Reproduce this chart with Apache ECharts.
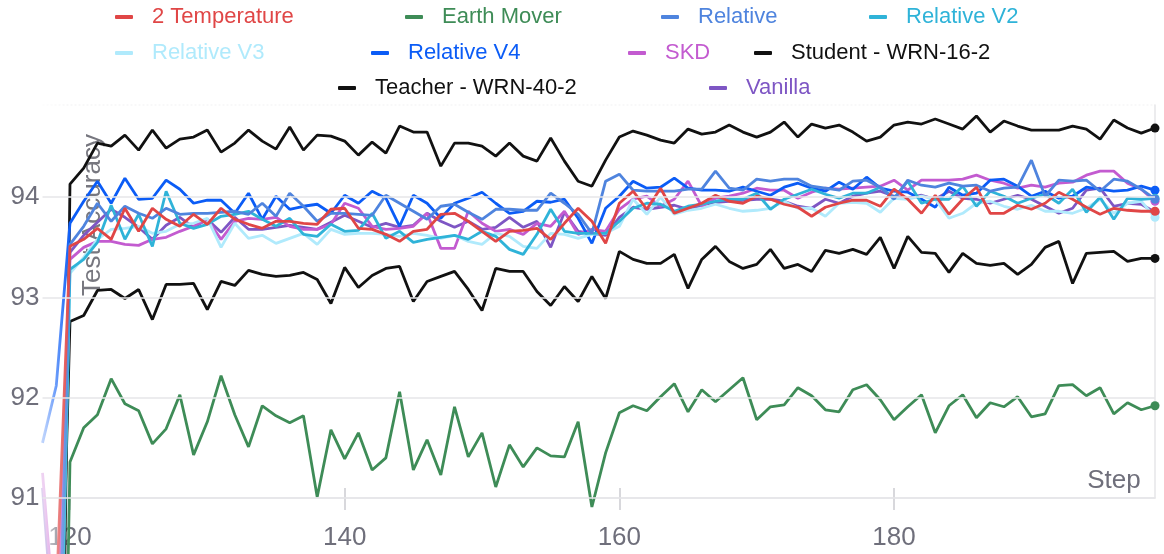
<!DOCTYPE html>
<html>
<head>
<meta charset="utf-8">
<script src="https://cdn.jsdelivr.net/npm/echarts@6/dist/echarts.min.js"></script>
<style>
  html, body { margin: 0; padding: 0; background: #fff; }
  #chart { width: 1164px; height: 554px; }
</style>
</head>
<body>
<div id="chart"></div>
<script>
// Training steps (x) and test accuracy per run (y), steps 118..199
const steps = [];
for (let s = 118; s <= 199; s++) steps.push(s);

const xTicks = [120, 140, 160, 180];
const yTicks = [91, 92, 93, 94];

const temp2 = [89.5, 90.0,
  93.51, 93.58, 93.69, 93.58, 93.89, 93.66, 93.89, 93.78, 93.71, 93.83,
  93.73, 93.89, 93.78, 93.73, 93.69, 93.76, 93.76, 93.74, 93.73, 93.88,
  93.89, 93.69, 93.68, 93.63, 93.56, 93.66, 93.68, 93.83, 93.84, 93.76,
  93.66, 93.56, 93.66, 93.67, 93.69, 93.58, 93.74, 93.89, 93.76, 93.54,
  93.94, 94.06, 93.88, 94.09, 93.84, 93.89, 93.94, 94.02, 93.96, 93.94,
  94.01, 93.98, 93.93, 93.90, 93.81, 93.90, 93.94, 93.97, 93.97, 93.91,
  94.08, 93.98, 93.84, 94.02, 93.83, 93.98, 94.10, 93.84, 93.84, 93.92,
  93.88, 93.94, 94.05, 93.98, 93.90, 93.83, 93.89, 93.87, 93.86, 93.86];

const earthMover = [84.0, 84.0,
  91.36, 91.70, 91.83, 92.19, 91.94, 91.87, 91.54, 91.69, 92.03, 91.43,
  91.76, 92.22, 91.83, 91.51, 91.92, 91.82, 91.75, 91.82, 91.01, 91.68,
  91.39, 91.65, 91.28, 91.40, 92.06, 91.28, 91.58, 91.23, 91.91, 91.41,
  91.65, 91.11, 91.53, 91.31, 91.50, 91.42, 91.41, 91.76, 90.91, 91.45,
  91.85, 91.92, 91.87, 92.01, 92.14, 91.86, 92.08, 91.96, 92.08, 92.20,
  91.78, 91.91, 91.93, 92.10, 92.02, 91.88, 91.86, 92.08, 92.13, 91.98,
  91.78, 91.91, 92.03, 91.65, 91.92, 92.03, 91.80, 91.95, 91.91, 92.01,
  91.81, 91.84, 92.12, 92.13, 92.02, 92.10, 91.84, 91.95, 91.88, 91.92];

const relative = [87.0, 88.0,
  93.53, 93.71, 93.94, 93.76, 93.91, 93.84, 93.79, 93.89, 93.83, 93.84,
  93.84, 93.85, 93.86, 93.83, 93.94, 93.81, 94.04, 93.91, 93.76, 93.84,
  93.84, 93.83, 93.82, 94.02, 93.94, 93.86, 93.78, 93.91, 93.93, 93.85,
  93.78, 93.88, 93.88, 93.87, 93.87, 94.04, 93.94, 93.83, 93.64, 94.16,
  94.23, 94.07, 94.06, 94.06, 94.06, 94.08, 94.08, 94.26, 94.09, 94.07,
  94.18, 94.16, 94.18, 94.18, 94.11, 94.09, 94.07, 94.16, 94.17, 94.10,
  93.98, 94.17, 94.12, 94.10, 94.14, 94.11, 94.12, 94.06, 94.09, 94.10,
  94.37, 94.01, 94.17, 94.16, 94.17, 94.06, 94.18, 94.16, 94.08, 93.98];

const relativeV2 = [88.0, 87.0,
  93.28, 93.38, 93.55, 93.92, 93.58, 93.83, 93.51, 94.06, 93.74, 93.69,
  93.73, 93.81, 93.83, 93.86, 93.78, 93.71, 93.79, 93.63, 93.61, 93.73,
  93.66, 93.67, 93.84, 93.59, 93.66, 93.55, 93.58, 93.60, 93.62, 93.58,
  93.66, 93.61, 93.48, 93.43, 93.63, 93.88, 93.66, 93.64, 93.64, 93.64,
  93.76, 93.89, 93.94, 93.93, 93.86, 93.91, 93.93, 93.96, 93.98, 93.98,
  94.04, 93.88, 93.98, 94.03, 94.08, 94.03, 93.99, 94.04, 94.04, 94.10,
  93.99, 94.16, 93.94, 93.98, 93.98, 94.11, 93.91, 94.06, 94.01, 93.94,
  93.99, 94.03, 93.94, 94.08, 93.85, 94.00, 93.78, 93.99, 93.98, 93.99];

const relativeV3 = [88.0, 87.5,
  93.24, 93.40, 93.58, 93.68, 93.69, 93.71, 93.64, 93.66, 93.73, 93.74,
  93.79, 93.50, 93.74, 93.59, 93.62, 93.54, 93.59, 93.64, 93.53, 93.68,
  93.63, 93.64, 93.64, 93.63, 93.61, 93.64, 93.62, 93.59, 93.62, 93.56,
  93.53, 93.64, 93.61, 93.51, 93.49, 93.64, 93.63, 93.59, 93.63, 93.64,
  93.71, 93.98, 93.83, 94.00, 93.83, 93.87, 93.89, 93.93, 93.89, 93.86,
  93.87, 93.89, 93.96, 93.89, 93.89, 93.81, 93.94, 93.95, 93.94, 93.85,
  93.99, 93.98, 94.01, 93.98, 93.79, 93.84, 93.94, 93.96, 93.91, 93.88,
  93.92, 93.86, 93.86, 93.84, 93.89, 93.98, 93.84, 93.94, 93.96, 93.80];

const relativeV4 = [91.55, 92.12,
  93.74, 93.96, 94.16, 93.94, 94.19, 93.98, 93.99, 94.17, 94.08, 93.94,
  93.97, 93.97, 93.84, 94.04, 93.78, 94.01, 93.88, 93.91, 93.93, 93.84,
  94.02, 93.94, 94.06, 93.99, 93.71, 94.02, 93.94, 93.79, 93.94, 93.99,
  94.05, 93.94, 93.84, 93.86, 93.96, 93.95, 93.98, 93.79, 93.54, 93.89,
  94.01, 94.16, 94.09, 94.10, 94.19, 94.09, 94.07, 94.07, 94.06, 94.10,
  94.06, 94.02, 94.10, 94.14, 94.09, 94.06, 94.15, 94.08, 94.20, 94.09,
  94.06, 94.05, 93.98, 93.90, 94.10, 94.02, 94.04, 94.17, 94.18, 94.11,
  94.01, 94.06, 93.99, 94.01, 94.10, 94.08, 94.06, 94.07, 94.11, 94.07];

const skd = [91.25, 89.6,
  93.38, 93.50, 93.56, 93.56, 93.53, 93.52, 93.58, 93.60, 93.66, 93.71,
  93.78, 93.58, 93.76, 93.79, 93.78, 93.80, 93.71, 93.68, 93.68, 93.73,
  93.94, 93.89, 93.71, 93.68, 93.69, 93.71, 93.84, 93.49, 93.49, 93.86,
  93.74, 93.66, 93.68, 93.63, 93.74, 93.71, 93.86, 93.63, 93.68, 93.66,
  93.88, 93.98, 94.01, 93.91, 93.98, 94.16, 93.91, 93.99, 94.01, 94.04,
  94.09, 94.07, 94.07, 93.99, 94.05, 94.09, 94.08, 94.09, 94.10, 94.11,
  94.17, 94.07, 94.17, 94.17, 94.17, 94.18, 94.22, 94.17, 94.14, 94.09,
  94.12, 94.10, 94.14, 94.15, 94.22, 94.26, 94.26, 94.14, 94.08, 93.96];

const student = [85.0, 87.7,
  92.76, 92.82, 93.07, 93.08, 92.99, 93.08, 92.78, 93.13, 93.13, 93.14,
  92.88, 93.16, 93.12, 93.27, 93.23, 93.21, 93.22, 93.25, 93.18, 92.94,
  93.30, 93.10, 93.22, 93.29, 93.31, 92.96, 93.16, 93.21, 93.26, 93.08,
  92.87, 93.29, 93.26, 93.26, 93.06, 92.92, 93.11, 92.96, 93.21, 92.99,
  93.46, 93.38, 93.34, 93.34, 93.43, 93.09, 93.38, 93.51, 93.36, 93.29,
  93.33, 93.48, 93.29, 93.33, 93.26, 93.47, 93.44, 93.48, 93.43, 93.60,
  93.29, 93.61, 93.45, 93.44, 93.25, 93.44, 93.34, 93.32, 93.34, 93.23,
  93.33, 93.50, 93.56, 93.14, 93.44, 93.45, 93.46, 93.36, 93.39, 93.39];

const teacher = [80.0, 84.0,
  94.13, 94.29, 94.54, 94.51, 94.62, 94.47, 94.67, 94.49, 94.58, 94.60,
  94.67, 94.45, 94.54, 94.67, 94.56, 94.48, 94.70, 94.47, 94.62, 94.61,
  94.56, 94.42, 94.55, 94.44, 94.71, 94.65, 94.65, 94.31, 94.54, 94.54,
  94.51, 94.41, 94.54, 94.41, 94.36, 94.59, 94.36, 94.16, 94.11, 94.37,
  94.60, 94.66, 94.62, 94.57, 94.54, 94.68, 94.63, 94.65, 94.72, 94.65,
  94.60, 94.65, 94.75, 94.60, 94.73, 94.69, 94.72, 94.65, 94.56, 94.60,
  94.72, 94.75, 94.73, 94.78, 94.73, 94.68, 94.81, 94.65, 94.76, 94.71,
  94.67, 94.67, 94.67, 94.71, 94.68, 94.58, 94.77, 94.69, 94.64, 94.69];

const vanilla = [91.1, 89.3,
  93.45, 93.62, 93.75, 93.88, 93.80, 93.70, 93.58, 93.72, 93.80, 93.70,
  93.78, 93.65, 93.80, 93.68, 93.68, 93.70, 93.72, 93.70, 93.68, 93.75,
  93.82, 93.76, 93.70, 93.74, 93.70, 93.72, 93.84, 93.76, 93.70, 93.76,
  93.68, 93.70, 93.80, 93.70, 93.76, 93.50, 93.85, 93.66, 93.64, 93.62,
  93.80, 93.90, 93.88, 93.90, 93.92, 93.88, 93.92, 93.95, 93.96, 93.97,
  93.98, 93.98, 93.96, 93.91, 93.89, 93.98, 93.94, 94.01, 94.04, 94.06,
  94.01, 93.99, 94.02, 93.98, 94.06, 93.99, 93.98, 93.94, 93.98, 94.02,
  93.98, 93.91, 93.84, 93.89, 94.07, 94.09, 93.91, 93.94, 93.93, 93.85];

// Runs in legend order: name, values, colour
const runs = [
  { name: '2 Temperature',       values: temp2,      color: '#e04646' },
  { name: 'Earth Mover',         values: earthMover, color: '#3e8c57' },
  { name: 'Relative',            values: relative,   color: '#4f84de' },
  { name: 'Relative V2',         values: relativeV2, color: '#2fb3d8' },
  { name: 'Relative V3',         values: relativeV3, color: '#b0eafc' },
  { name: 'Relative V4',         values: relativeV4, color: '#0b5cf6' },
  { name: 'SKD',                 values: skd,        color: '#c35bd0' },
  { name: 'Student - WRN-16-2',  values: student,    color: '#111111' },
  { name: 'Teacher - WRN-40-2',  values: teacher,    color: '#111111' },
  { name: 'Vanilla',             values: vanilla,    color: '#7e56c4' }
];

// Legend slots: [left, top] of each entry, three centred rows
const legendSlots = [
  [115, 6], [405, 6], [661, 6], [869, 6],
  [115, 42], [371, 42], [628, 42], [754, 42],
  [338, 77], [709, 77]
];

const lastIdx = steps.length - 1;
const gridColor = '#e6e6e9';
const labelColor = '#6f6f7b';
const fontFamily = '"Liberation Sans", Arial, Helvetica, sans-serif';

const series = runs.map((r, i) => ({
  name: r.name,
  type: 'line',
  data: steps.map((s, j) => [s, r.values[j]]),
  color: r.color,
  lineStyle: { width: 2.8, color: r.color },
  itemStyle: { color: r.color },
  symbol: 'circle',
  showAllSymbol: true,
  symbolSize: (v, p) => (p.dataIndex === lastIdx ? 9 : 0),
  clip: false,
  silent: true,
  animation: false,
  z: 2 + (runs.length - i) * 0.01 + (r.name === '2 Temperature' ? 0.2 : 0)
}));

const legends = runs.map((r, i) => ({
  data: [r.name],
  left: legendSlots[i][0],
  top: legendSlots[i][1],
  padding: 0,
  selectedMode: false,
  icon: 'roundRect',
  itemWidth: 18,
  itemHeight: 4,
  textStyle: { color: r.color, fontSize: 22, fontFamily: fontFamily, padding: [0, 0, 0, 14] }
}));

const chart = echarts.init(document.getElementById('chart'), null, { renderer: 'canvas' });
chart.setOption({
  animation: false,
  backgroundColor: '#ffffff',
  legend: legends,
  grid: { left: 42.5, right: 9, top: 105, bottom: 56, containLabel: false },
  xAxis: [
    {
      type: 'value', min: 118, max: 199,
      axisLine: { show: true, lineStyle: { color: gridColor, width: 1.5 } },
      axisTick: { show: true, customValues: xTicks, length: 12, lineStyle: { color: '#d8d8dc', width: 2 } },
      axisLabel: { customValues: xTicks, color: labelColor, fontSize: 26, fontFamily: fontFamily, margin: 27 },
      splitLine: { show: false }
    },
    {
      type: 'value', min: 118, max: 199, position: 'bottom',
      axisLine: { show: false },
      axisTick: { show: true, inside: true, customValues: xTicks, length: 10, lineStyle: { color: '#d8d8dc', width: 2 } },
      axisLabel: { show: false },
      splitLine: { show: false }
    }
  ],
  yAxis: [
    {
      type: 'value', min: 91, max: 94.92, interval: 1,
      z: 5,
      axisLine: { show: false },
      axisTick: { show: false, customValues: yTicks },
      axisLabel: {
        customValues: yTicks,
        color: labelColor, fontSize: 26, fontFamily: fontFamily, margin: 3,
        formatter: v => String(v)
      },
      splitLine: { show: true, customValues: yTicks, lineStyle: { color: gridColor, width: 1.5 } }
    },
    {
      type: 'value', min: 91, max: 94.92, position: 'right',
      axisLine: { show: true, lineStyle: { color: gridColor, width: 1.5 } },
      axisTick: { show: false },
      axisLabel: { show: false },
      splitLine: { show: false }
    }
  ],
  graphic: [
    {
      // faint dotted top edge of the plot area
      type: 'line', z: 0, silent: true,
      shape: { x1: 42.5, y1: 105, x2: 1155, y2: 105 },
      style: { stroke: '#f1f1f3', lineWidth: 1, lineDash: [2, 2] }
    },
    {
      type: 'text', x: 93, y: 215, rotation: Math.PI / 2, z: 1,
      style: { text: 'Test Accuracy', fontSize: 26, fontFamily: fontFamily, fill: '#77777f',
               textAlign: 'center', textVerticalAlign: 'middle' }
    },
    {
      type: 'text', x: 1114, y: 481, z: 1,
      style: { text: 'Step', fontSize: 26, fontFamily: fontFamily, fill: labelColor,
               textAlign: 'center', textVerticalAlign: 'middle' }
    },
    {
      // soft white fade over the left edge of the plot
      type: 'rect', z: 4, silent: true,
      shape: { x: 28, y: 100, width: 42, height: 454 },
      style: {
        fill: new echarts.graphic.LinearGradient(0, 0, 1, 0, [
          { offset: 0, color: 'rgba(255,255,255,0.9)' },
          { offset: 0.4, color: 'rgba(255,255,255,0.7)' },
          { offset: 1, color: 'rgba(255,255,255,0)' }
        ])
      }
    }
  ],
  series: series
});
</script>
</body>
</html>
